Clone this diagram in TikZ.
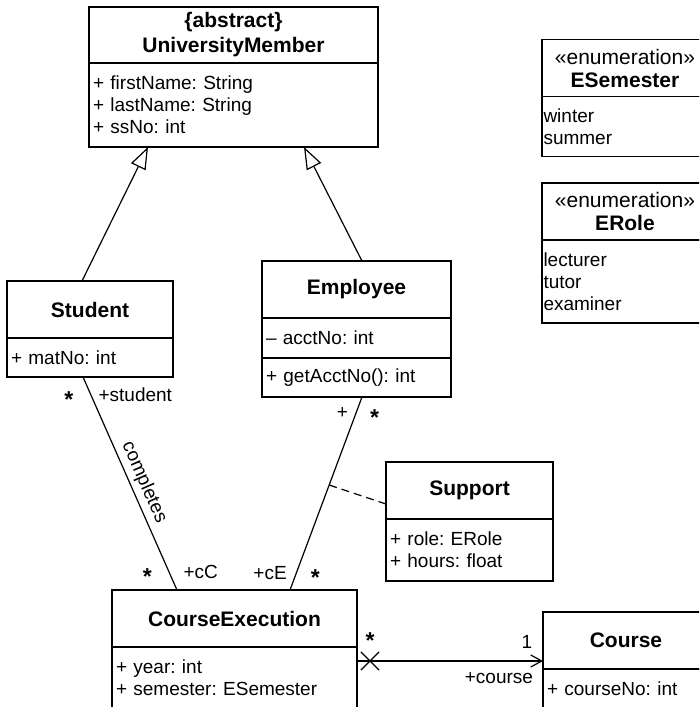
\documentclass[tikz,border=0pt]{standalone}
\usepackage{fontspec}
\setmainfont{Liberation Sans}
\usetikzlibrary{positioning, arrows.meta, shapes.misc}
\frenchspacing

\newcommand{\headfont}{\fontsize{21}{25}\selectfont}
\newcommand{\bodyfont}{\fontsize{19}{22}\selectfont}
\newcommand{\starfont}{\fontsize{23}{25}\selectfont\bfseries}

\begin{document}
\begin{tikzpicture}[
    x=1pt, y=-1pt,
    line width=1.2pt,
    head/.style={rectangle, draw=black, outer sep=0pt, inner sep=0pt, minimum height=57pt, align=center, font=\headfont},
    body/.style={rectangle, draw=black, outer sep=0pt, inner xsep=4pt, inner ysep=0pt, align=left, font=\bodyfont},
    lbl/.style={font=\bodyfont, inner sep=2pt},
    mult/.style={lbl, font=\starfont, yshift=-4.5pt},
    gen/.style={-{Triangle[open, length=22pt, width=16pt]}, draw=black},
    assoc/.style={draw=black},
    nav/.style={-{Straight Barb[length=11pt, width=12pt]}, draw=black},
    xmark/.style={draw=black, cross out, minimum size=17pt, inner sep=0pt},
]

\useasboundingbox (0,0) rectangle (699,707);
\clip (0,0) rectangle (699,707);

% Superclass
\node[head, minimum width=289pt, minimum height=56pt] (umhead) at (233.5,35) {\textbf{\{abstract\}}\\\textbf{UniversityMember}};
\node[body, text width=281pt, minimum height=84pt, below=0pt of umhead] (umattr) {+ firstName: String\\+ lastName: String\\+ ssNo: int};

% Subclasses
\node[head, minimum width=166pt] (stuhead) at (90,309.5) {\textbf{Student}};
\node[body, text width=158pt, minimum height=39pt, below=0pt of stuhead] (stuattr) {+ matNo: int};

\node[head, minimum width=189pt] (emphead) at (356.5,289.5) {\textbf{Employee}};
\node[body, text width=181pt, minimum height=40pt, below=0pt of emphead] (empattr) {-- acctNo: int};
\node[body, text width=181pt, minimum height=39pt, below=0pt of empattr] (empops) {+ getAcctNo(): int};

% Association class
\node[head, minimum width=167pt] (suphead) at (469.5,490.5) {\textbf{Support}};
\node[body, text width=159pt, minimum height=62pt, below=0pt of suphead] (supattr) {+ role: ERole\\+ hours: float};

% Enumerations
\node[head, minimum width=166pt] (semhead) at (625,68) {«enumeration»\\[-2pt]\textbf{ESemester}};
\node[body, inner xsep=1.5pt, text width=163pt, minimum height=60pt, below=0pt of semhead] (semlits) {winter\\summer};

\node[head, minimum width=166pt] (rolehead) at (625,211.5) {«enumeration»\\[-2pt]\textbf{ERole}};
\node[body, inner xsep=1.5pt, text width=163pt, minimum height=83pt, below=0pt of rolehead] (rolelits) {lecturer\\tutor\\examiner};

% Courses
\node[head, minimum width=245pt] (cehead) at (234.5,618.5) {\textbf{CourseExecution}};
\node[body, text width=237pt, minimum height=62pt, below=0pt of cehead] (ceattr) {+ year: int\\+ semester: ESemester};

\node[head, minimum width=166pt] (crshead) at (626,640.5) {\textbf{Course}};
\node[body, text width=158pt, minimum height=40pt, below=0pt of crshead] (crsattr) {+ courseNo: int};

% Generalizations
\draw[gen] ([xshift=-8pt]stuhead.north) -- ([xshift=-85.5pt]umattr.south);
\draw[gen] ([xshift=5.5pt]emphead.north) -- ([xshift=70.5pt]umattr.south);

% Associations
\draw[assoc] ([xshift=-7pt]stuattr.south) --
    node[mult, pos=0.085, left=15pt] {*}
    node[lbl, pos=0.085, right=5pt] {+student}
    node[lbl, pos=0.52, sloped, above=2pt] {completes}
    node[mult, pos=0.915, left=14.5pt] {*}
    node[lbl, pos=0.915, right=12pt] {+cC}
    ([xshift=-57.5pt]cehead.north);
\draw[assoc] ([xshift=5.5pt]empops.south) --
    node[lbl, pos=0.083, left=5.5pt] {+}
    node[mult, pos=0.083, right=11.5pt] {*}
    coordinate[pos=0.456] (spt)
    node[lbl, pos=0.912, left=7pt] {+cE}
    node[mult, pos=0.912, right=12pt] {*}
    ([xshift=55.5pt]cehead.north);
\draw[assoc, dash pattern=on 8pt off 5pt] (spt) -- ([yshift=-13.5pt]suphead.west);

% Navigable association
\coordinate (ceport) at ([yshift=-14pt]ceattr.north east);
\draw[nav] (ceport) --
    node[mult, pos=0.07, above=14pt] {*}
    node[lbl, pos=0.914, above=10pt] {1}
    node[lbl, pos=0.763, below=9pt] {+course}
    (ceport -| crshead.west);
\node[xmark] (ceend) at ([xshift=13pt]ceport) {};

\end{tikzpicture}
\end{document}
